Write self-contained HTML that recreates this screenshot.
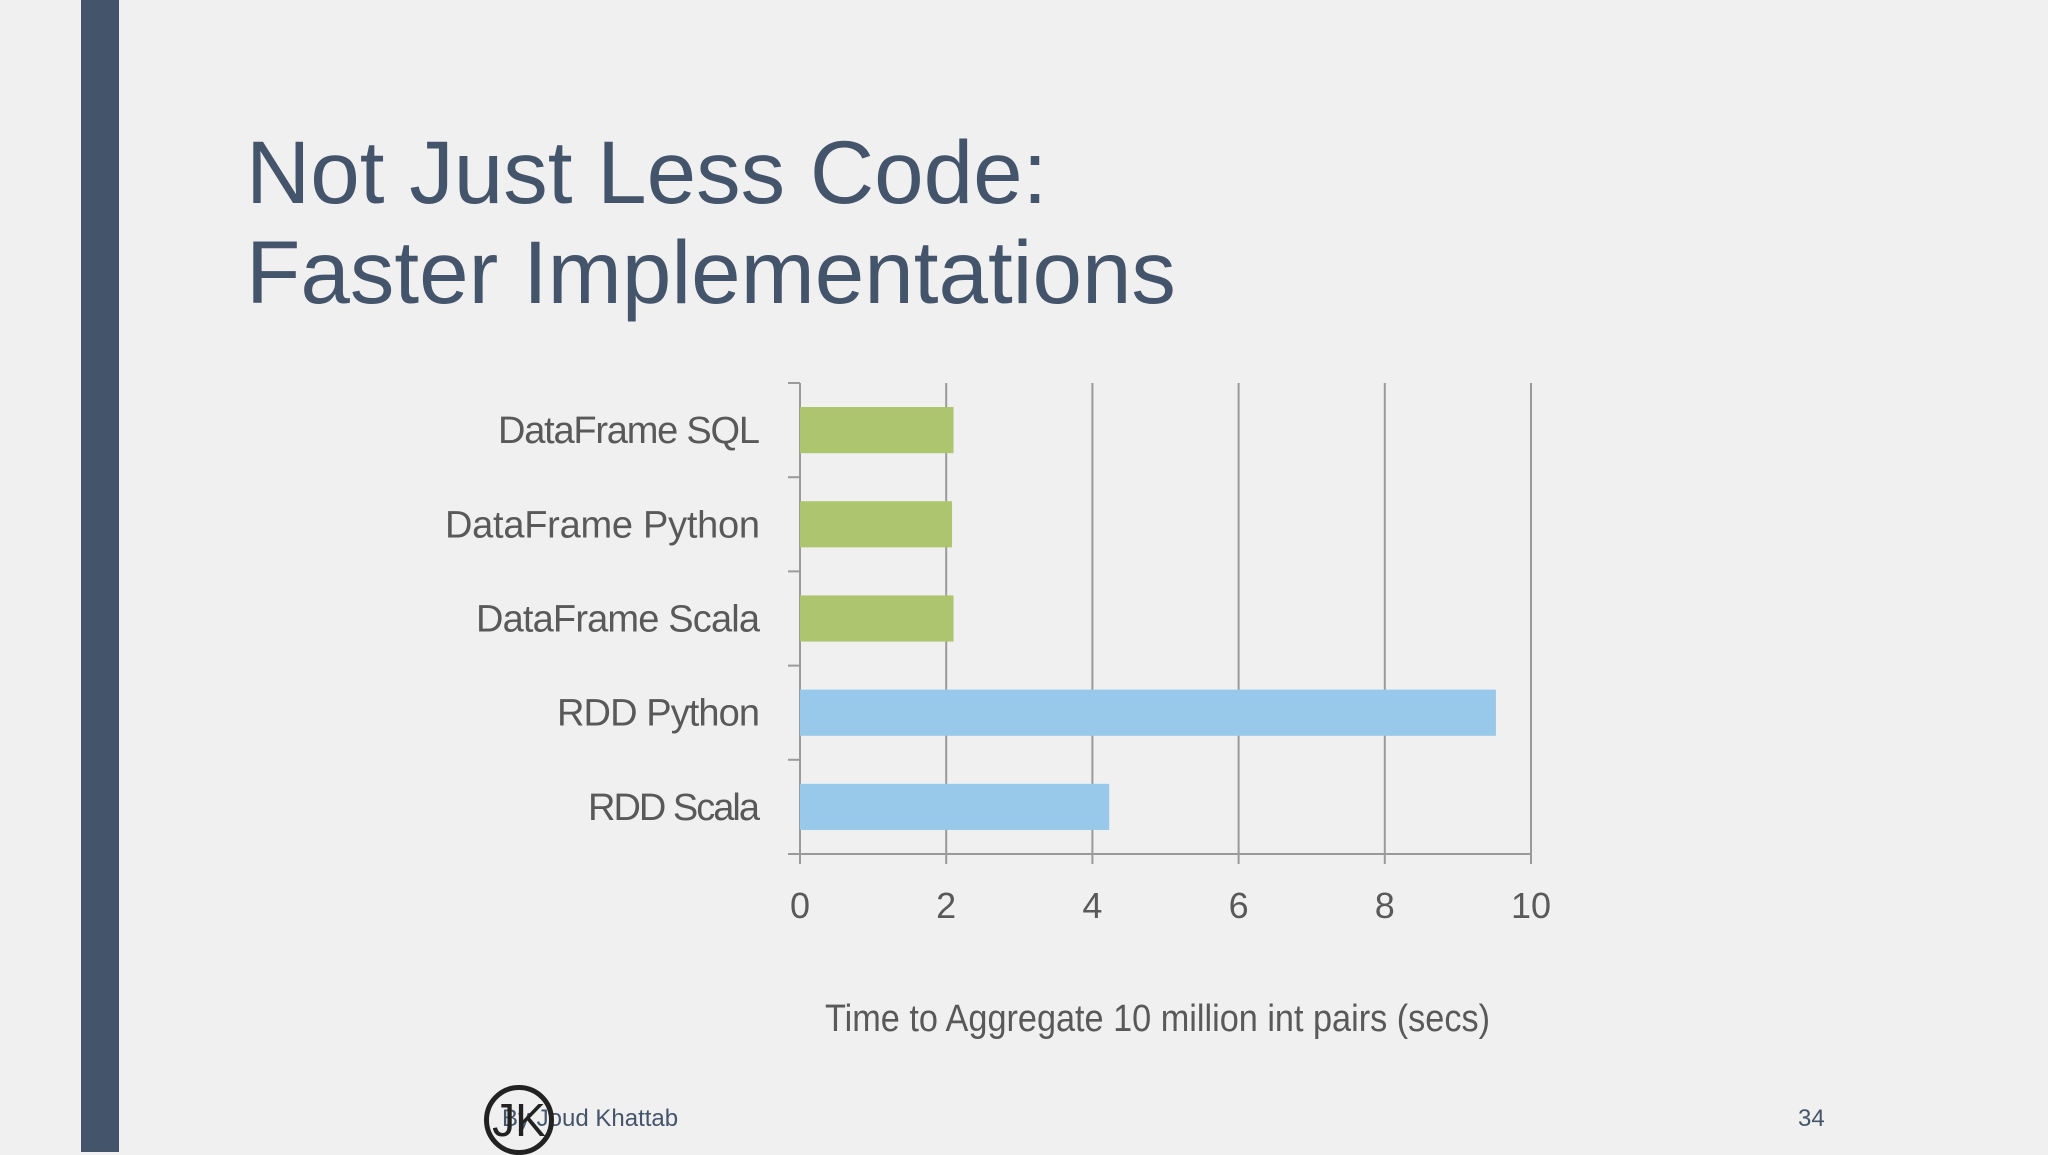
<!DOCTYPE html>
<html><head><meta charset="utf-8"><style>
body{margin:0;width:2048px;height:1152px;background:#f0f0f1;overflow:hidden;position:relative;font-family:"Liberation Sans",sans-serif}
.t{position:absolute;color:#44546a}
</style></head><body>
<div style="position:absolute;left:81px;top:0;width:38px;height:1152px;background:#44546a"></div>
<div class="t" style="left:246px;top:122px;font-size:89px;line-height:100px;">Not Just Less Code:<br>Faster Implementations</div>
<svg width="2048" height="1152" style="position:absolute;left:0;top:0">
<g id="g"></g></svg>
<div class="t" style="left:502px;top:1105px;font-size:24px;">By Joud Khattab</div>
<div style="position:absolute;left:484px;top:1085px;width:60px;height:60px;border:5px solid #222;border-radius:50%;font-size:46px;line-height:60px;text-align:center;color:#222;box-sizing:content-box">JK</div>
<div class="t" style="left:1798px;top:1105px;font-size:24px;">34</div>
<script>
const categories=["DataFrame SQL","DataFrame Python","DataFrame Scala","RDD Python","RDD Scala"];
const values=[2.1,2.08,2.1,9.52,4.23];
const barColors=["#adc56e","#adc56e","#adc56e","#98c8ea","#98c8ea"];
const ticks=[0,2,4,6,8,10];
const NS="http://www.w3.org/2000/svg",g=document.getElementById('g');
const X0=800,X1=1531,Y0=383,Y1=854;
const x=v=>X0+(X1-X0)*v/10;
const band=(Y1-Y0)/categories.length;
function el(t,a,txt){const e=document.createElementNS(NS,t);for(const k in a)e.setAttribute(k,a[k]);if(txt!==undefined)e.textContent=txt;g.appendChild(e);return e;}
const F='"Liberation Sans Narrow","Liberation Sans",sans-serif';
ticks.forEach(t=>{
 const l=el('line',{x1:x(t),x2:x(t),y1:Y0,y2:Y1+10,stroke:'#9a9a9a','stroke-width':2});
 
 
 const tx=el('text',{x:x(t),y:918,'text-anchor':'middle','font-size':36,fill:'#595959','font-family':F},t);
 
 
});
for(let i=0;i<=categories.length;i++){
 const l=el('line',{x1:X0-12,x2:X0,y1:Y0+band*i,y2:Y0+band*i,stroke:'#9a9a9a','stroke-width':2});
 
 
}
el('line',{x1:X0-12,x2:X1,y1:Y1,y2:Y1,stroke:'#9a9a9a','stroke-width':2});
const labelW=[262,315,284,203,172];
categories.forEach((c,i)=>{
 const yc=Y0+band*(i+0.5),h=band*0.49;
 const r=el('rect',{x:X0,y:yc-h/2,width:x(values[i])-X0,height:h,fill:barColors[i]});
 
 
 const t=el('text',{x:760,y:yc+13,'text-anchor':'end','font-size':38,fill:'#595959','font-family':F},c);
 const w=t.getComputedTextLength();
 if(w>labelW[i])t.setAttribute('textLength',labelW[i]);
 
 
});
const at=el('text',{x:825,y:1031,'font-size':38,fill:'#595959','font-family':F,textLength:665,lengthAdjust:'spacingAndGlyphs'},'Time to Aggregate 10 million int pairs (secs)');


</script>
</body></html>
